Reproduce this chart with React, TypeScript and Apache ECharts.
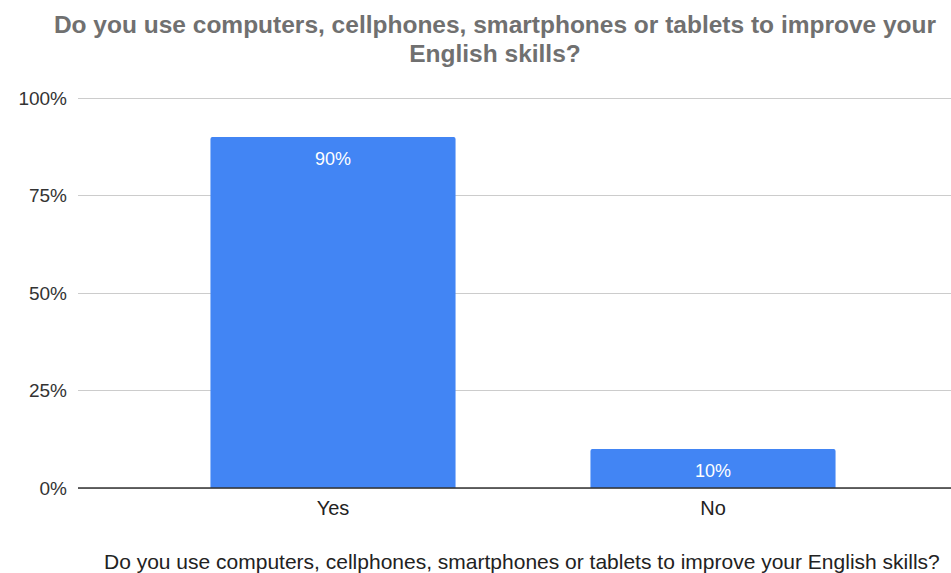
import React, { useEffect, useRef } from "react";
import * as echarts from "echarts";

const categories = ["Yes", "No"];
const values = [90, 10];
const yTicks = [0, 25, 50, 75, 100];
const titleText = "Do you use computers, cellphones, smartphones or tablets to improve your\nEnglish skills?";
const axisName = "Do you use computers, cellphones, smartphones or tablets to improve your English skills?";

export default function App() {
  const ref = useRef<HTMLDivElement>(null);
  useEffect(() => {
    if (!ref.current) return;
    const chart = echarts.init(ref.current, undefined, { renderer: "svg" });
    const font = "'Liberation Sans', Arial, sans-serif";
    chart.setOption({
      animation: false,
      textStyle: { fontFamily: font },
      title: {
        text: titleText,
        left: 490,
        textAlign: "center",
        top: 5,
        textStyle: { fontFamily: font, fontSize: 24.5, fontWeight: "bold", color: "#707070", lineHeight: 29 },
      },
      grid: [
        { left: 78, right: 0, top: 98, bottom: 85, containLabel: false },
        { left: 143, right: 48, top: 98, bottom: 85, containLabel: false },
      ],
      xAxis: [
        { gridIndex: 0, type: "category", data: categories, show: false },
        {
          gridIndex: 1,
          type: "category",
          data: categories,
          axisLine: { show: false },
          axisTick: { show: false },
          axisLabel: { fontSize: 20, color: "#222", margin: 10, fontFamily: font },
        },
      ],
      yAxis: [
        {
          gridIndex: 0,
          type: "value",
          min: 0,
          max: 100,
          interval: 25,
          axisLine: { show: false },
          axisTick: { show: false },
          splitLine: { lineStyle: { color: "#cccccc", width: 1 } },
          axisLabel: {
            fontSize: 19,
            color: "#333",
            margin: 11,
            fontFamily: font,
            formatter: (v: number) => (yTicks.includes(v) ? v + "%" : ""),
          },
        },
        {
          gridIndex: 1,
          type: "value",
          min: 0,
          max: 100,
          interval: 25,
          show: false,
        },
      ],
      graphic: [
        {
          type: "text",
          left: 104,
          top: 551,
          style: { text: axisName, fill: "#222", font: `21px ${font}` },
        },
      ],
      series: [
        {
          type: "line",
          xAxisIndex: 0,
          yAxisIndex: 0,
          data: [],
          markLine: {
            symbol: "none",
            silent: true,
            label: { show: false },
            lineStyle: { color: "#333", width: 1.5, type: "solid" },
            data: [{ yAxis: 0 }],
          },
        },
        {
          type: "bar",
          xAxisIndex: 1,
          yAxisIndex: 1,
          data: values,
          barWidth: "64.5%",
          itemStyle: { color: "#4285f4", borderRadius: [2, 2, 0, 0] },
          label: {
            show: true,
            position: "insideTop",
            distance: 13,
            color: "#ffffff",
            fontSize: 18,
            fontFamily: font,
            formatter: (p: any) => p.value + "%",
          },
        },
      ],
    });
    return () => chart.dispose();
  }, []);
  return <div ref={ref} style={{ width: 951, height: 573, position: "absolute", left: 0, top: 0 }} />;
}
